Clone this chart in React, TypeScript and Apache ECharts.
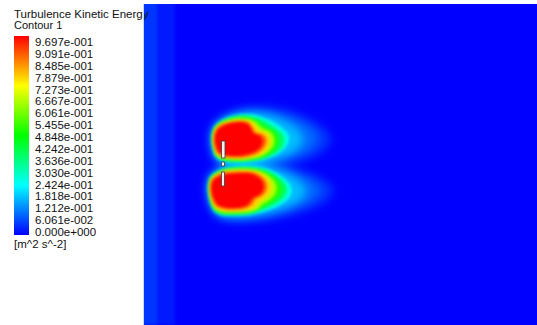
import React, { useEffect, useRef } from "react";
import * as echarts from "echarts";

// Turbulence kinetic energy range shown by the legend [m^2 s^-2]
const K_MAX = 0.9697;

// Legend tick labels, bottom to top
const LEGEND_LABELS = [
  "0.000e+000", "6.061e-002", "1.212e-001", "1.818e-001", "2.424e-001",
  "3.030e-001", "3.636e-001", "4.242e-001", "4.848e-001", "5.455e-001",
  "6.061e-001", "6.667e-001", "7.273e-001", "7.879e-001", "8.485e-001",
  "9.091e-001", "9.697e-001",
];

// Plane extents in plot units
const DOMAIN_X = [0, 394];
const DOMAIN_Y = [0, 321];

// Free-stream level and inlet-side bands of low k: [x0, x1, k]
const FREE_STREAM: number[][] = [[-20, 414, 0.0]];
const INLET_BANDS: number[][] = [
  [-20, 32, 0.024],
  [-20, 14, 0.05],
];

// Iso-k outlines of the upper wake lobe, [x, y] in plot units
const UPPER_K005 = [[67,134],[69,123.5],[74.5,116],[85,109],[100,104],[118,102.5],[137,104.5],[156,110],[172,118],[184,127],[188,135],[184,144],[171,153],[150,160],[126,164.5],[100,166],[81,163.5],[71,156],[68,145]];
const UPPER_K010 = [[67.5,134],[69.5,124],[75,117],[85,111],[99,107],[115,106],[132,108],[149,113],[163,120],[173,128],[175,135],[171,143],[159,151],[140,157],[119,161],[97,162],[80,160],[71.5,154],[68.5,144]];
const UPPER_K018 = [[67.7,134],[69.7,124.2],[75.2,117.5],[85,112],[98,108.5],[112,108],[126,110.5],[140,116],[151,122.5],[158,129],[160,135.5],[157,143],[147,150.5],[131,156.5],[113,160],[94,160.5],[79,158.5],[71.7,153.2],[68.7,143.5]];
const UPPER_K027 = [[68,134],[70,124.5],[75.5,118],[85,113],[97,110.5],[109,110.5],[120,113.5],[130,118],[139,124],[145,130],[146,136],[143,143],[135,150],[122,155.5],[107,158.5],[91,159],[78,157],[72,152.5],[69,143]];
const UPPER_K040 = [[68.2,134],[70.2,124.7],[75.7,118.5],[85,114],[96.5,111.8],[107,112],[116.5,114.8],[125,119.2],[132,124],[138.5,129],[141,135],[139.5,142.5],[132,149.5],[120,155],[106,157.5],[91,158],[78.5,156.2],[72.2,152],[69.2,143]];
const UPPER_K052 = [[68.5,134],[70.5,125],[76,119],[85,115],[96,113],[105,113.5],[113,116],[119,120.5],[125,124],[132,128],[135,134],[134,142],[128,149],[118,154],[105,156.5],[91,157],[79,155.5],[72.5,151.5],[69.5,143]];
const UPPER_K065 = [[69,134],[71,125.2],[76.2,119.8],[85,116],[95.5,114.2],[104,114.8],[111,117],[116,121.2],[120.5,124.8],[127.5,128],[131,134],[130.5,141.5],[125,148.2],[116,153],[104,155.5],[91,156],[79.5,154.5],[73,151],[70,143]];
const UPPER_K077 = [[69.5,134],[71.5,125.5],[76.5,120.5],[85,117],[95,115.5],[103,116],[109,118],[113,122],[116,126.5],[123,128.5],[127,134],[127,141],[122,147.5],[114,152],[103,154.5],[91,155],[80,153.5],[73.5,150.5],[70.5,143]];
const UPPER_K088 = [[70.5,134],[72.5,126],[77,121.5],[85,118.5],[94,117],[101,117],[106.5,119],[110,124],[113,128.5],[119,130],[123,134],[123,140],[119,146],[112,150.5],[102,153],[92,153.5],[81,152.5],[74.5,149.5],[71.5,142.5]];
const UPPER_K097 = [[72,134],[74,127],[78,123],[85,120],[93,118.5],[100,118.5],[104.5,120],[107.5,123.5],[110,129],[114,130.5],[118,133],[119.5,137],[118.5,141.5],[115,145.5],[110,148.5],[102,151],[92,152],[82,151],[76,148],[73,142]];

// Iso-k outlines of the lower wake lobe
const LOWER_K005 = [[63.5,183],[65,173.5],[69.5,167],[81,161],[99,157.5],[121,157.5],[143,161],[163,167.5],[180,175],[190,184],[188,193],[175,202],[154,210],[128,216],[104,218.5],[86,218],[73,213.5],[67,203],[64,191.5]];
const LOWER_K010 = [[64,183],[65.5,174],[70,168],[81,162.5],[97,160],[117,160],[137,163],[155,169],[169,176],[177,184],[175,192],[163,200],[145,207],[123,212.5],[102,215],[85,214.5],[73,210.5],[67.5,201.5],[64.5,191]];
const LOWER_K018 = [[64.2,183],[65.7,174.2],[70.2,168.5],[81,163.2],[96,161],[114,161],[131,164],[146,170],[157,177.5],[163,185],[161,193],[151,200.5],[134,207],[115,211.8],[97,213.5],[82,213],[72,209],[67.2,200.5],[64.7,190.7]];
const LOWER_K027 = [[64.5,183],[66,174.5],[70.5,169],[81,164],[95,162],[111,162],[125,165],[137,171],[146,179],[149,186],[146,194],[137,201],[123,207],[107,211],[92,212],[79,211.5],[71,207.5],[67,199.5],[65,190.5]];
const LOWER_K040 = [[64.7,183],[66.2,174.7],[70.7,169.5],[81,164.8],[94,163],[109,163],[122,165.8],[133,171.2],[141,178.5],[144,185.5],[141,193],[133,199.5],[122,204.8],[108,209.8],[92.5,211],[79,210.5],[71.2,206.8],[67.2,199],[65.2,190.2]];
const LOWER_K052 = [[65,183],[66.5,175],[71,170],[81,165.5],[93,164],[107,164],[119,166.5],[129,171.5],[136,178],[138.5,185],[136,192],[129,198],[121,202.5],[109,208.5],[93,210],[79,209.5],[71.5,206],[67.5,198.5],[65.5,190]];
const LOWER_K065 = [[65.5,183],[67,175.2],[71.5,170.5],[81,166.2],[92.5,165],[105.5,165],[116.5,167],[125,171.2],[131.5,177.5],[133.5,184.2],[131.5,191],[125,197],[119,200.5],[115,205],[106,207.8],[92,208.8],[79.5,208.2],[72,205],[68,198],[66,189.8]];
const LOWER_K077 = [[66,183],[67.5,175.5],[72,171],[81,167],[92,166],[104,166],[114,167.5],[121,171],[126.5,177],[128.5,183.5],[126.5,190],[121,195.5],[116,198.5],[113,203],[104,206.5],[91,207.5],[80,207],[72.5,204],[68.5,197.5],[66.5,189.5]];
const LOWER_K088 = [[67,183],[68.5,176],[73,172],[81,168.8],[91,167.8],[102,167.5],[111,168.5],[118,172],[122.5,177],[124,183],[122,189],[117,193],[112,195.5],[109,200.5],[102,204.5],[91,205.7],[81,205.2],[73.5,202.5],[69.5,196.5],[67.5,189]];
const LOWER_K097 = [[68.5,183],[70,177],[74,173.5],[81,170.5],[91,169.5],[101,169],[109,170],[115,173],[119,177],[120.5,183],[119,188],[115,191.5],[110.5,193.5],[107.5,197],[105,200.5],[99,203],[91,204],[82,203.5],[75,201],[71,195],[69,189]];

// Solid parts on the axis between the lobes: [x0, y0, x1, y1]
const SOLID_PARTS: number[][] = [
  [78.5, 137, 82, 154],
  [78.5, 158, 81.5, 162],
  [78.5, 168, 81.5, 182],
];

type Contour = { k: number; pts: number[][] };

const CONTOURS: Contour[] = [
  { k: 0.05, pts: UPPER_K005 },
  { k: 0.05, pts: LOWER_K005 },
  { k: 0.1, pts: UPPER_K010 },
  { k: 0.1, pts: LOWER_K010 },
  { k: 0.18, pts: UPPER_K018 },
  { k: 0.18, pts: LOWER_K018 },
  { k: 0.27, pts: UPPER_K027 },
  { k: 0.27, pts: LOWER_K027 },
  { k: 0.4, pts: UPPER_K040 },
  { k: 0.4, pts: LOWER_K040 },
  { k: 0.52, pts: UPPER_K052 },
  { k: 0.52, pts: LOWER_K052 },
  { k: 0.65, pts: UPPER_K065 },
  { k: 0.65, pts: LOWER_K065 },
  { k: 0.77, pts: UPPER_K077 },
  { k: 0.77, pts: LOWER_K077 },
  { k: 0.88, pts: UPPER_K088 },
  { k: 0.88, pts: LOWER_K088 },
  { k: 0.97, pts: UPPER_K097 },
  { k: 0.97, pts: LOWER_K097 },
];

// The weak outer wake is drawn on a softer layer than the core
const K_CORE = 0.2;
const OUTER = CONTOURS.filter((c) => c.k < K_CORE);
const CORE = CONTOURS.filter((c) => c.k >= K_CORE);

// Blue - cyan - green - yellow - red colour map
function rainbow(k: number): string {
  const t = Math.max(0, Math.min(1, k / K_MAX));
  let r = 0, g = 0, b = 0;
  if (t < 0.25) { r = 0; g = (t / 0.25) * 255; b = 255; }
  else if (t < 0.5) { r = 0; g = 255; b = (1 - (t - 0.25) / 0.25) * 255; }
  else if (t < 0.75) { r = ((t - 0.5) / 0.25) * 255; g = 255; b = 0; }
  else { r = 255; g = (1 - (t - 0.75) / 0.25) * 255; b = 0; }
  return `rgb(${Math.round(r)},${Math.round(g)},${Math.round(b)})`;
}

const FONT = '"Liberation Sans", Arial, sans-serif';
const W = 537;
const H = 325;
const FIELD_GRID = { left: 143, top: 4, width: 394, height: 321 };

const fieldAxes = {
  xAxis: { type: "value", min: DOMAIN_X[0], max: DOMAIN_X[1], show: false },
  yAxis: { type: "value", min: DOMAIN_Y[0], max: DOMAIN_Y[1], inverse: true, show: false },
};

function bandSeries(list: number[][]) {
  return {
    type: "custom",
    clip: false,
    data: list.map((b) => [b[0], DOMAIN_Y[0]]),
    renderItem: (p: any, api: any) => {
      const band = list[p.dataIndex];
      const a = api.coord([band[0], DOMAIN_Y[0] - 20]);
      const b = api.coord([band[1], DOMAIN_Y[1] + 20]);
      return {
        type: "rect",
        shape: { x: a[0], y: a[1], width: b[0] - a[0], height: b[1] - a[1] },
        style: { fill: rainbow(band[2]) },
      };
    },
  };
}

function contourSeries(list: Contour[]) {
  return {
    type: "custom",
    clip: false,
    data: list.map((c) => c.pts[0]),
    renderItem: (p: any, api: any) => {
      const c = list[p.dataIndex];
      return {
        type: "polygon",
        shape: { points: c.pts.map((q) => api.coord(q)), smooth: 0.3 },
        style: { fill: rainbow(c.k) },
      };
    },
  };
}

export default function App() {
  const baseRef = useRef<HTMLDivElement>(null);
  const outerRef = useRef<HTMLDivElement>(null);
  const coreRef = useRef<HTMLDivElement>(null);
  const topRef = useRef<HTMLDivElement>(null);

  useEffect(() => {
    if (!baseRef.current || !outerRef.current || !coreRef.current || !topRef.current) return;

    // legend: colour bar with tick labels
    const base = echarts.init(baseRef.current, null, { renderer: "svg" });
    const colorStops = [0, 0.25, 0.5, 0.75, 1].map((s) => ({
      offset: s,
      color: rainbow(s * K_MAX),
    }));
    base.setOption({
      animation: false,
      grid: { left: 14, top: 42, width: 15, height: 190 },
      xAxis: { type: "value", min: 0, max: 1, show: false },
      yAxis: [
        {
          type: "category",
          data: LEGEND_LABELS,
          boundaryGap: false,
          position: "right",
          axisLine: { show: false },
          axisTick: { show: true, length: 3, alignWithLabel: true, lineStyle: { color: "#999", width: 1 } },
          axisLabel: { interval: 0, margin: 6, color: "#111", fontSize: 11.5, fontFamily: FONT },
          splitLine: { show: false },
        },
        { type: "value", min: 0, max: K_MAX, show: false },
      ],
      series: [
        {
          type: "custom",
          yAxisIndex: 1,
          clip: false,
          data: [[0, 0]],
          renderItem: (_p: any, api: any) => {
            const a = api.coord([0, -0.015]);
            const b = api.coord([1, 1.0]);
            return {
              type: "rect",
              shape: { x: a[0], y: b[1], width: b[0] - a[0], height: a[1] - b[1] },
              style: { fill: { type: "linear", x: 0, y: 1, x2: 0, y2: 0, colorStops } },
            };
          },
        },
      ],
      graphic: [
        {
          type: "text",
          x: 14,
          y: 243.5,
          style: { text: "[m^2 s^-2]", font: `11.5px ${FONT}`, fill: "#111", verticalAlign: "middle" },
        },
      ],
    });

    // k field, outer part: free stream and weak wake levels
    const outer = echarts.init(outerRef.current, null, { renderer: "svg" });
    outer.setOption({
      animation: false,
      grid: FIELD_GRID,
      ...fieldAxes,
      series: [bandSeries(FREE_STREAM), contourSeries(OUTER)],
    });

    // k field, inlet bands and wake core levels
    const core = echarts.init(coreRef.current, null, { renderer: "svg" });
    core.setOption({
      animation: false,
      grid: FIELD_GRID,
      ...fieldAxes,
      series: [bandSeries(INLET_BANDS), contourSeries(CORE)],
    });

    // overlay: domain edge, solid parts, title
    const top = echarts.init(topRef.current, null, { renderer: "svg" });
    top.setOption({
      animation: false,
      grid: FIELD_GRID,
      ...fieldAxes,
      series: [
        {
          type: "custom",
          data: [[DOMAIN_X[0], DOMAIN_Y[0]]],
          renderItem: (_p: any, api: any) => {
            const a = api.coord([DOMAIN_X[0], DOMAIN_Y[0]]);
            const b = api.coord([DOMAIN_X[0], DOMAIN_Y[1]]);
            return {
              type: "line",
              shape: { x1: a[0] + 0.5, y1: a[1], x2: b[0] + 0.5, y2: b[1] },
              style: { stroke: "#c9d6ff", lineWidth: 1 },
            };
          },
        },
        {
          type: "custom",
          data: SOLID_PARTS.map((s) => [s[0], s[1]]),
          renderItem: (p: any, api: any) => {
            const s = SOLID_PARTS[p.dataIndex];
            const a = api.coord([s[0], s[1]]);
            const b = api.coord([s[2], s[3]]);
            return {
              type: "rect",
              shape: { x: a[0], y: a[1], width: b[0] - a[0], height: b[1] - a[1] },
              style: { fill: "#f2f2f2", stroke: "#3a3a3a", lineWidth: 0.8 },
            };
          },
        },
      ],
      graphic: [
        {
          type: "text",
          x: 14,
          y: 13.5,
          style: { text: "Turbulence Kinetic Energy", font: `11.5px ${FONT}`, fill: "#111", verticalAlign: "middle" },
        },
        {
          type: "text",
          x: 14,
          y: 25,
          style: { text: "Contour 1", font: `11px ${FONT}`, fill: "#111", verticalAlign: "middle" },
        },
      ],
    });

    return () => {
      base.dispose();
      outer.dispose();
      core.dispose();
      top.dispose();
    };
  }, []);

  const layer = (blur: number) => ({
    position: "absolute" as const,
    left: -FIELD_GRID.left,
    top: -FIELD_GRID.top,
    width: W,
    height: H,
    filter: `blur(${blur}px)`,
  });

  return (
    <div style={{ position: "fixed", left: 0, top: 0, width: W, height: H, background: "#fff" }}>
      <div ref={baseRef} style={{ position: "absolute", left: 0, top: 0, width: W, height: H }} />
      <div
        style={{
          position: "absolute",
          left: FIELD_GRID.left,
          top: FIELD_GRID.top,
          width: FIELD_GRID.width,
          height: FIELD_GRID.height,
          overflow: "hidden",
          background: rainbow(0),
        }}
      >
        <div ref={outerRef} style={layer(4)} />
        <div ref={coreRef} style={layer(1.5)} />
      </div>
      <div ref={topRef} style={{ position: "absolute", left: 0, top: 0, width: W, height: H, pointerEvents: "none" }} />
    </div>
  );
}
